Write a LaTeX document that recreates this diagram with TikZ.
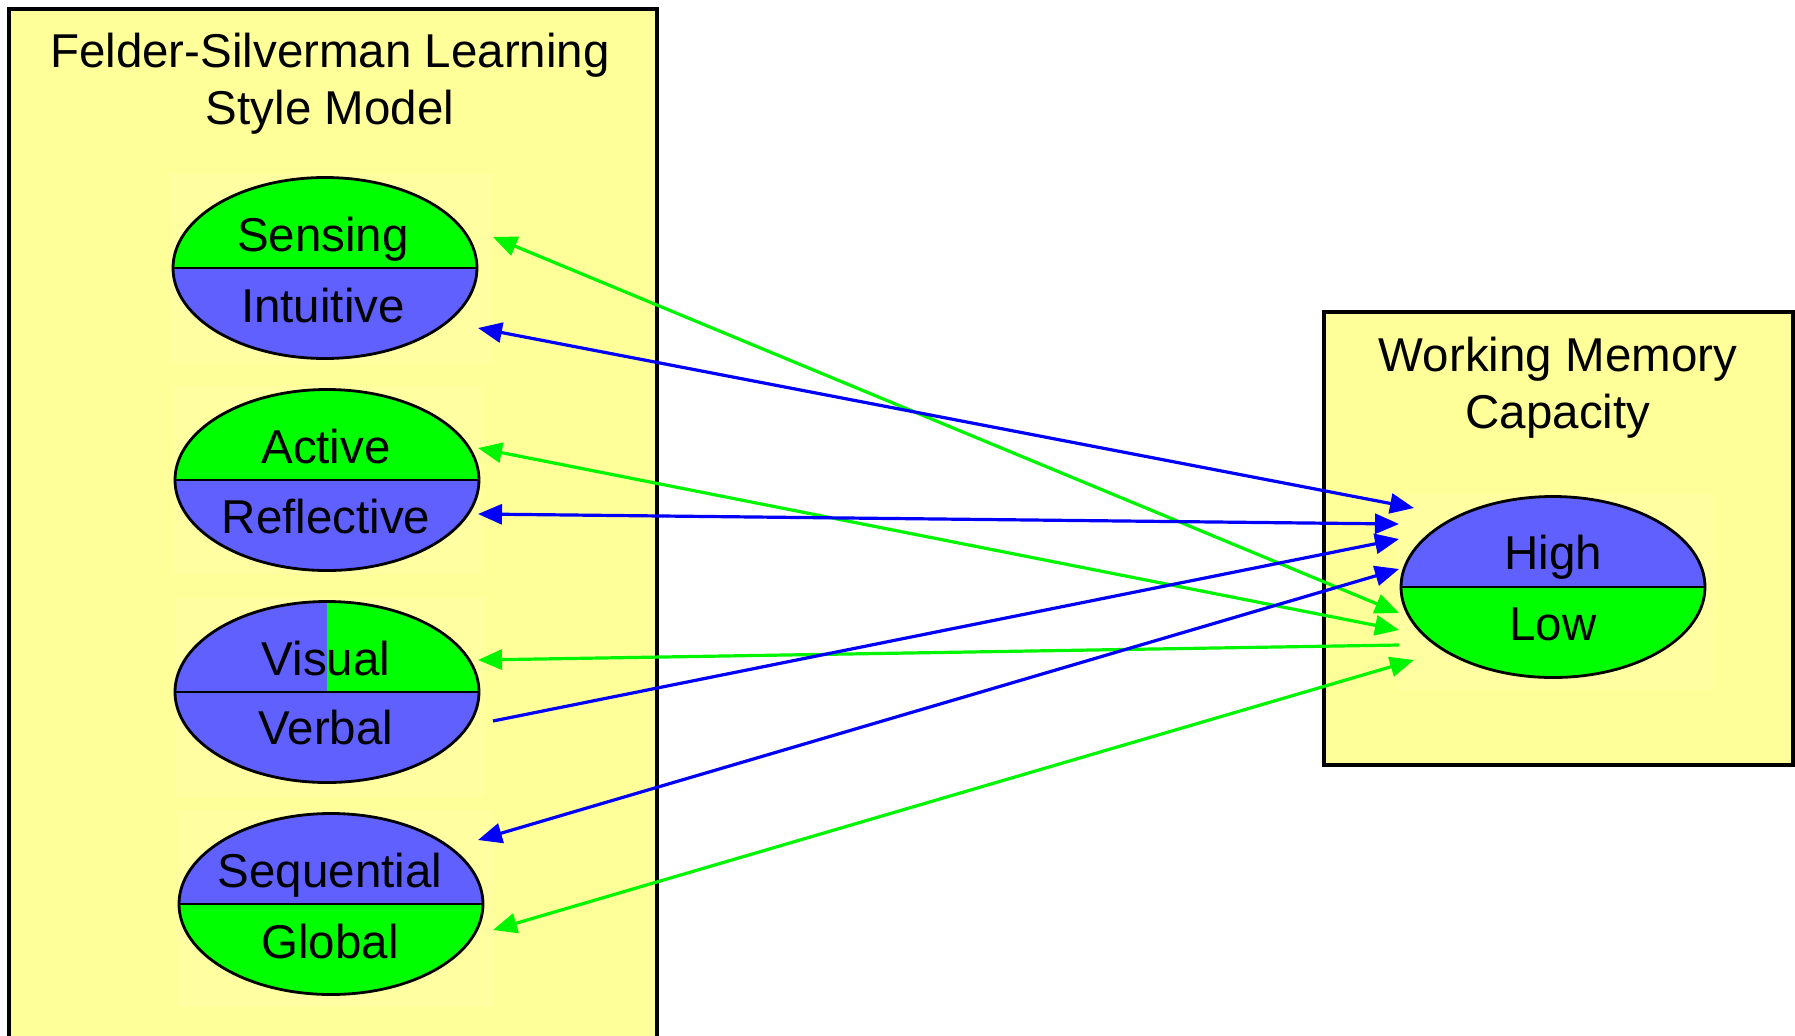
\documentclass[tikz,border=0pt]{standalone}
\usepackage{fontspec}
\setmainfont{Liberation Sans}
\usetikzlibrary{shapes.geometric,arrows.meta,calc}

\definecolor{boxyellow}{RGB}{255,255,153}
\definecolor{tileyellow}{RGB}{255,255,162}
\definecolor{ellgreen}{RGB}{0,255,0}
\definecolor{ellblue}{RGB}{96,96,255}
\definecolor{linkblue}{RGB}{0,0,250}
\definecolor{linkgreen}{RGB}{0,245,0}

\begin{document}
\begin{tikzpicture}[x=0.5pt,y=-0.5pt,
  panel/.style={draw=black, line width=1.75pt, fill=boxyellow},
  tile/.style={fill=tileyellow},
  txt/.style={font=\fontsize{23.75pt}{28.5pt}\selectfont, inner sep=0pt},
  heading/.style={txt, align=center, anchor=base},
  lbl/.style={txt, anchor=base},
  dual/.style={ellipse, draw=black, line width=1.4pt, minimum width=152pt,
    minimum height=90.5pt, inner sep=0pt},
  divider/.style={line width=1.3pt},
  topgreen/.style={dual, path picture={
    \fill[ellgreen] (path picture bounding box.north west) rectangle (path picture bounding box.east);
    \fill[ellblue] (path picture bounding box.west) rectangle (path picture bounding box.south east);
    \draw[divider] (path picture bounding box.west) -- (path picture bounding box.east);}},
  topblue/.style={dual, path picture={
    \fill[ellblue] (path picture bounding box.north west) rectangle (path picture bounding box.east);
    \fill[ellgreen] (path picture bounding box.west) rectangle (path picture bounding box.south east);
    \draw[divider] (path picture bounding box.west) -- (path picture bounding box.east);}},
  quarter/.style={dual, path picture={
    \fill[ellblue] (path picture bounding box.north west) rectangle (path picture bounding box.south east);
    \fill[ellgreen] (path picture bounding box.north) rectangle (path picture bounding box.east);
    \draw[divider] (path picture bounding box.west) -- (path picture bounding box.east);}},
  link/.style={line width=1.6pt, arrows={-Triangle[length=12pt,width=10pt]}},
  both/.style={line width=1.6pt, arrows={Triangle[length=12pt,width=10pt]-Triangle[length=12pt,width=10pt]}},
  blueline/.style={draw=linkblue, fill=linkblue},
  greenline/.style={draw=linkgreen, fill=linkgreen}
]
\useasboundingbox (0,0) rectangle (1795,1035);
\fill[white] (0,0) rectangle (1795,1035);
\clip (0,0) rectangle (1795,1035);

% panels
\draw[panel] (9,9) rectangle (657,1050);
\draw[panel] (1324,312) rectangle (1793,765);

% faint tiles behind the ellipses
\fill[tile] (170,174) rectangle (492,364);
\fill[tile] (173,386) rectangle (482,574);
\fill[tile] (175,598) rectangle (485,797);
\fill[tile] (178,810) rectangle (493,1007);
\fill[tile] (1398,494) rectangle (1713,690);

% headings (anchored on the baseline of their last line)
\node[heading] (fslsm) at (330,124.5) {Felder-Silverman Learning\\Style Model};
\node[heading] (wmc) at (1558,428) {Working Memory\\Capacity};

% dimension ellipses
\node[topgreen] (si) at (325,268) {};
\node[topgreen] (ar) at (327,480) {};
\node[quarter]  (vv) at (327,692) {};
\node[topblue]  (sg) at (331,904) {};
\node[topblue]  (hl) at (1553,587) {};

% pole labels
\node[lbl] (sens) at ($(si.center)+(-2,-17)$) {Sensing};
\node[lbl] (intu) at ($(si.center)+(-2,54)$) {Intuitive};
\node[lbl] (acti) at ($(ar.center)+(-1,-17)$) {Active};
\node[lbl] (refl) at ($(ar.center)+(-1,53)$) {Reflective};
\node[lbl] (visu) at ($(vv.center)+(-1,-17)$) {Visual};
\node[lbl] (verb) at ($(vv.center)+(-1,52)$) {Verbal};
\node[lbl] (sequ) at ($(sg.center)+(-1,-17)$) {Sequential};
\node[lbl] (glob) at ($(sg.center)+(-1,54)$) {Global};
\node[lbl] (high) at ($(hl.center)+(0,-18)$) {High};
\node[lbl] (low)  at ($(hl.center)+(0,53)$) {Low};

% connector ports beside the ellipses
\coordinate (p-sens) at ($(si.center)+(168,-31)$);
\coordinate (p-intu) at ($(si.center)+(153,60)$);
\coordinate (p-acti) at ($(ar.center)+(151,-32)$);
\coordinate (p-refl) at ($(ar.center)+(151,34)$);
\coordinate (p-visu) at ($(vv.center)+(151,-32)$);
\coordinate (p-verb) at ($(vv.center)+(166,29)$);
\coordinate (p-sequ) at ($(sg.center)+(147,-64)$);
\coordinate (p-glob) at ($(sg.center)+(162,26)$);
\coordinate (h-intu) at ($(hl.center)+(-139,-79)$);
\coordinate (h-refl) at ($(hl.center)+(-154,-63)$);
\coordinate (h-verb) at ($(hl.center)+(-154,-48)$);
\coordinate (h-sequ) at ($(hl.center)+(-154,-18)$);
\coordinate (l-sens) at ($(hl.center)+(-154,26)$);
\coordinate (l-acti) at ($(hl.center)+(-154,43)$);
\coordinate (l-visu) at ($(hl.center)+(-154,58)$);
\coordinate (l-glob) at ($(hl.center)+(-139,73)$);

% links between learning-style poles and memory capacity
\draw[both, greenline] (p-sens) -- (l-sens);
\draw[both, blueline]  (p-intu) -- (h-intu);
\draw[both, greenline] (p-acti) -- (l-acti);
\draw[both, blueline]  (p-refl) -- (h-refl);
\draw[link, greenline] (l-visu) -- (p-visu);
\draw[link, blueline]  (p-verb) -- (h-verb);
\draw[both, blueline]  (p-sequ) -- (h-sequ);
\draw[both, greenline] (p-glob) -- (l-glob);
\end{tikzpicture}
\end{document}
